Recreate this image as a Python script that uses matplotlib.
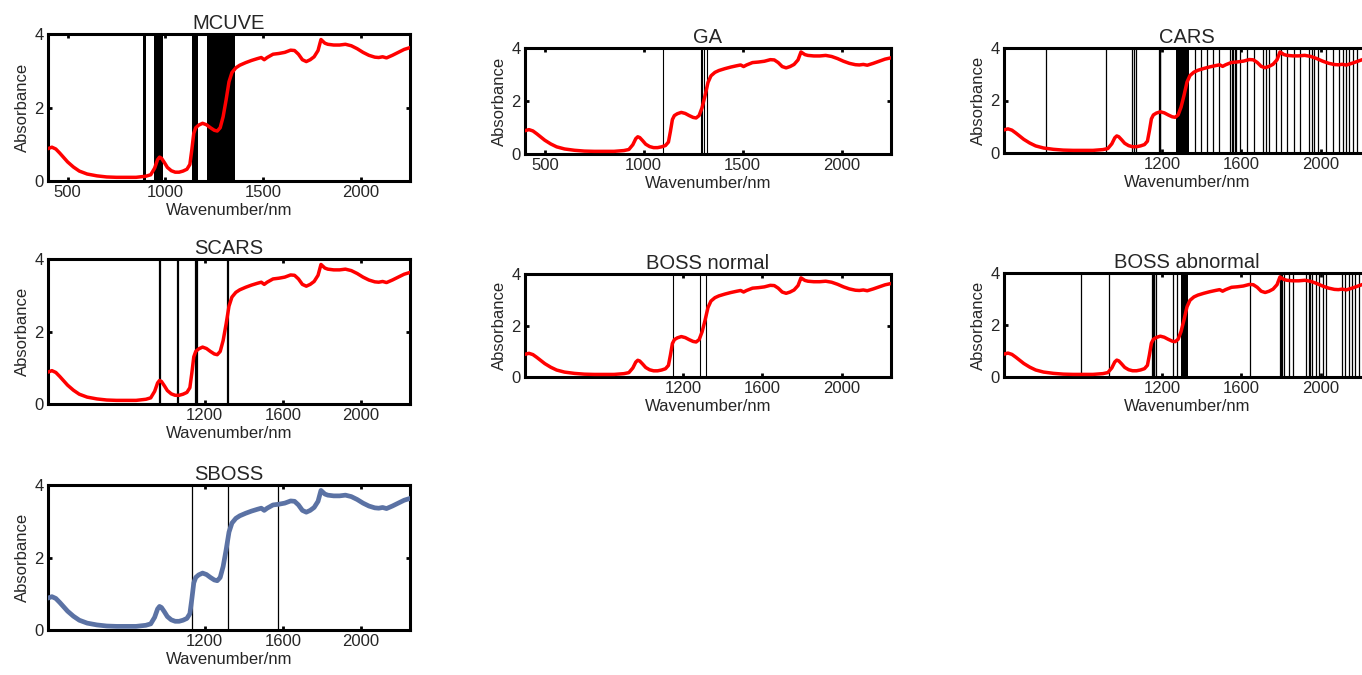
import numpy as np
import matplotlib
matplotlib.use("Agg")
import matplotlib.pyplot as plt

plt.rcParams['font.family'] = ['Liberation Sans', 'DejaVu Sans']
plt.rcParams['text.color'] = '#262626'
plt.rcParams['axes.labelcolor'] = '#262626'

# mean spectrum
wavelength = [400, 420, 440, 460, 480, 500, 530, 560, 600, 650, 700, 750, 800, 850, 900, 925,
              945, 960, 970, 980, 995, 1010, 1030, 1050, 1070, 1090, 1110, 1125, 1135, 1145,
              1155, 1170, 1190, 1210, 1230, 1250, 1265, 1280, 1295, 1310, 1325, 1340, 1360,
              1380, 1410, 1440, 1470, 1490, 1505, 1520, 1550, 1580, 1610, 1640, 1660, 1680,
              1700, 1720, 1740, 1760, 1780, 1795, 1805, 1815, 1830, 1860, 1890, 1920, 1950,
              1980, 2010, 2040, 2070, 2090, 2110, 2130, 2160, 2190, 2220, 2250]
absorbance = [0.88, 0.92, 0.87, 0.76, 0.64, 0.52, 0.38, 0.27, 0.19, 0.14, 0.11, 0.10, 0.10,
              0.10, 0.13, 0.17, 0.35, 0.58, 0.65, 0.62, 0.50, 0.37, 0.28, 0.24, 0.24, 0.27,
              0.32, 0.45, 0.85, 1.30, 1.45, 1.52, 1.57, 1.53, 1.45, 1.38, 1.36, 1.45, 1.75,
              2.20, 2.70, 2.95, 3.08, 3.15, 3.22, 3.28, 3.33, 3.36, 3.30, 3.36, 3.45, 3.47,
              3.50, 3.56, 3.55, 3.45, 3.30, 3.25, 3.30, 3.38, 3.55, 3.85, 3.80, 3.75, 3.72,
              3.70, 3.70, 3.72, 3.68, 3.60, 3.50, 3.42, 3.37, 3.36, 3.38, 3.35, 3.42, 3.50,
              3.58, 3.63]

# selected wavelengths per method
mcuve_bands = [(888, 900), (943, 990), (1135, 1169), (1211, 1356)]
ga_lines = [1097, 1290, 1296, 1303, 1320]
cars_lines = [613, 914, 1048, 1056, 1069, 1181, 1186, 1190, 1366, 1394, 1425, 1458, 1488,
              1542, 1550, 1558, 1567, 1575, 1592, 1626, 1662, 1709, 1722, 1739, 1776, 1801,
              1830, 1868, 1894, 1944, 1957, 1969, 1985, 2028, 2061, 2095, 2111, 2128, 2145,
              2165, 2186]
cars_bands = [(1270, 1335)]
scars_lines = [974, 1063, 1155, 1162, 1319]
boss_normal_lines = [1150, 1284, 1313]
boss_abnormal_lines = [788, 930, 1148, 1152, 1156, 1160, 1170, 1254, 1274, 1642, 1793,
                       1798, 1803, 1813, 1843, 1860, 1924, 1940, 1947, 1957, 1977, 1994,
                       2011, 2028, 2108, 2125, 2145, 2161, 2175, 2195]
boss_abnormal_bands = [(1293, 1330)]
sboss_lines = [1137, 1319, 1574]

W, H = 1362, 675
fig = plt.figure(figsize=(W / 100, H / 100), dpi=100)


def make_axes(px_left, px_top, px_right, px_bottom):
    return fig.add_axes([px_left / W, 1 - px_bottom / H,
                         (px_right - px_left) / W, (px_bottom - px_top) / H])


def style(ax, title, xticks):
    ax.set_xlim(400, 2250)
    ax.set_ylim(0, 4)
    ax.set_yticks([0, 2, 4])
    ax.set_xticks(xticks)
    ax.tick_params(direction='in', length=3, width=2, top=True, right=True,
                   labelsize=12, pad=3, color='black', labelcolor='#262626')
    for s in ax.spines.values():
        s.set_linewidth(2.2)
    ax.set_title(title, fontsize=14.5, pad=3.5)
    ax.set_xlabel('Wavenumber/nm', fontsize=12, labelpad=2)
    ax.set_ylabel('Absorbance', fontsize=12, labelpad=3)


panels = [
    ('MCUVE', (48, 34, 410, 181), [500, 1000, 1500, 2000], [], mcuve_bands, 1.0, 'red'),
    ('GA', (525, 48, 891, 154), [500, 1000, 1500, 2000], ga_lines, [], 0.8, 'red'),
    ('CARS', (1004, 48, 1370, 153), [1200, 1600, 2000], cars_lines, cars_bands, 0.9, 'red'),
    ('SCARS', (48, 259, 410, 404), [1200, 1600, 2000], scars_lines, [], 1.6, 'red'),
    ('BOSS normal', (525, 274, 891, 377), [1200, 1600, 2000], boss_normal_lines, [], 0.8, 'red'),
    ('BOSS abnormal', (1004, 273, 1370, 377), [1200, 1600, 2000], boss_abnormal_lines,
     boss_abnormal_bands, 0.9, 'red'),
    ('SBOSS', (48, 485, 410, 630), [1200, 1600, 2000], sboss_lines, [], 0.9, '#5b72a4'),
]

for title, box, xticks, lines, bands, lw, color in panels:
    ax = make_axes(*box)
    for x in lines:
        ax.axvline(x, color='black', lw=lw, zorder=1)
    for a, b in bands:
        ax.axvspan(a, b, color='black', lw=0, zorder=1)
    ax.plot(wavelength, absorbance, color=color,
            lw=3.4 if color != 'red' else 2.5, zorder=3, solid_capstyle='round')
    style(ax, title, xticks)

fig.savefig('out.png', dpi=100)
